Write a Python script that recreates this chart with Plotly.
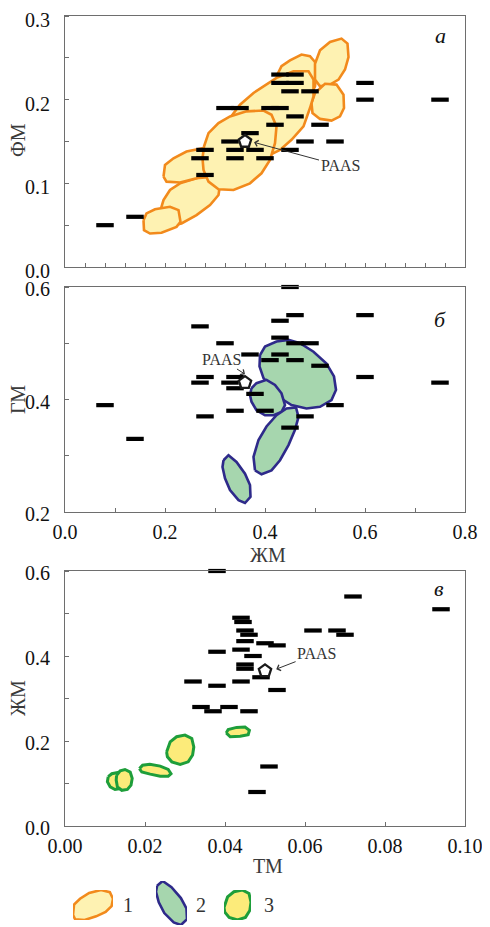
import plotly.graph_objects as go

# ---------------- data ----------------
# panel a: ФМ vs ЖМ (samples)
A_X = [0.08, 0.14, 0.27, 0.28, 0.28, 0.32, 0.35, 0.33, 0.34, 0.34, 0.37, 0.38, 0.40, 0.41, 0.43,
       0.42, 0.43, 0.46, 0.43, 0.46, 0.45, 0.49, 0.46, 0.45, 0.48, 0.51, 0.54, 0.60, 0.60, 0.75]
A_Y = [0.05, 0.06, 0.13, 0.14, 0.11, 0.19, 0.19, 0.15, 0.14, 0.13, 0.16, 0.14, 0.13, 0.19, 0.19,
       0.17, 0.23, 0.23, 0.22, 0.22, 0.21, 0.21, 0.18, 0.14, 0.15, 0.17, 0.15, 0.22, 0.20, 0.20]
# panel b: ГМ vs ЖМ
B_X = [0.45, 0.46, 0.60, 0.43, 0.27, 0.43, 0.32, 0.46, 0.49, 0.37, 0.43, 0.41, 0.46, 0.51, 0.28,
       0.34, 0.60, 0.27, 0.33, 0.75, 0.34, 0.38, 0.08, 0.54, 0.34, 0.40, 0.28, 0.48, 0.45, 0.14]
B_Y = [0.60, 0.55, 0.55, 0.54, 0.53, 0.51, 0.50, 0.50, 0.50, 0.48, 0.48, 0.47, 0.47, 0.46, 0.44,
       0.44, 0.44, 0.43, 0.43, 0.43, 0.42, 0.41, 0.39, 0.39, 0.38, 0.38, 0.37, 0.37, 0.35, 0.33]
# panel c: ЖМ vs ТМ
C_X = [0.038, 0.072, 0.094, 0.044, 0.0445, 0.045, 0.046, 0.062, 0.068, 0.070, 0.045, 0.050, 0.053,
       0.044, 0.038, 0.047, 0.045, 0.045, 0.049, 0.032, 0.044, 0.038, 0.053, 0.034, 0.041, 0.037,
       0.046, 0.051, 0.048]
C_Y = [0.60, 0.54, 0.51, 0.49, 0.48, 0.46, 0.45, 0.46, 0.46, 0.45, 0.435, 0.43, 0.425, 0.415, 0.41,
       0.40, 0.38, 0.37, 0.35, 0.34, 0.34, 0.33, 0.32, 0.28, 0.28, 0.27, 0.27, 0.14, 0.08]

PAAS_A = (0.36, 0.15)
PAAS_B = (0.36, 0.43)
PAAS_C = (0.050, 0.365)

# tick labels
A_YTICKS = [0.0, 0.1, 0.2, 0.3]
B_XTICKS = [0.0, 0.2, 0.4, 0.6, 0.8]
B_YTICKS = [0.2, 0.4, 0.6]
C_XTICKS = [0.00, 0.02, 0.04, 0.06, 0.08, 0.10]
C_YTICKS = [0.0, 0.2, 0.4, 0.6]

# field 1 outlines (panel a)
F1_F = [(0.423, 0.228), (0.433, 0.240), (0.45, 0.247), (0.473, 0.254), (0.49, 0.252), (0.5, 0.245),
        (0.503, 0.232), (0.5, 0.216), (0.49, 0.204), (0.463, 0.204), (0.437, 0.212)]
F1_G = [(0.5, 0.243), (0.51, 0.259), (0.53, 0.269), (0.553, 0.273), (0.565, 0.267), (0.567, 0.251),
        (0.56, 0.236), (0.547, 0.224), (0.53, 0.218), (0.51, 0.216), (0.5, 0.224)]
F1_H = [(0.5, 0.208), (0.52, 0.219), (0.543, 0.218), (0.557, 0.206), (0.558, 0.190), (0.55, 0.180),
        (0.533, 0.175), (0.51, 0.177), (0.495, 0.184), (0.493, 0.196)]
F1_E = [(0.33, 0.178), (0.35, 0.194), (0.377, 0.208), (0.423, 0.226), (0.457, 0.234), (0.487, 0.234),
        (0.497, 0.224), (0.497, 0.204), (0.49, 0.190), (0.477, 0.168), (0.453, 0.152), (0.43, 0.140),
        (0.41, 0.134), (0.383, 0.140), (0.35, 0.152)]
F1_B = [(0.19, 0.066), (0.197, 0.080), (0.21, 0.092), (0.23, 0.100), (0.263, 0.106), (0.297, 0.108),
        (0.31, 0.098), (0.307, 0.086), (0.29, 0.074), (0.263, 0.062), (0.233, 0.052), (0.203, 0.048)]
F1_A = [(0.157, 0.056), (0.163, 0.064), (0.18, 0.069), (0.21, 0.072), (0.227, 0.068), (0.231, 0.054),
        (0.223, 0.048), (0.193, 0.041), (0.17, 0.040), (0.158, 0.044)]
F1_C = [(0.197, 0.108), (0.2, 0.122), (0.217, 0.130), (0.243, 0.138), (0.277, 0.142), (0.302, 0.139),
        (0.311, 0.130), (0.307, 0.120), (0.29, 0.112), (0.263, 0.106), (0.23, 0.101), (0.203, 0.102)]
F1_D = [(0.278, 0.144), (0.287, 0.160), (0.307, 0.172), (0.33, 0.180), (0.363, 0.186), (0.397, 0.187),
        (0.413, 0.182), (0.423, 0.168), (0.42, 0.148), (0.41, 0.128), (0.393, 0.112), (0.37, 0.100),
        (0.337, 0.092), (0.307, 0.093), (0.287, 0.102), (0.277, 0.116), (0.275, 0.130)]

# field 2 outlines (panel b)
F2_P = [(0.39, 0.479), (0.40, 0.494), (0.423, 0.503), (0.447, 0.506), (0.47, 0.500), (0.497, 0.485),
        (0.523, 0.464), (0.538, 0.441), (0.542, 0.417), (0.533, 0.399), (0.51, 0.387), (0.483, 0.384),
        (0.453, 0.390), (0.437, 0.399), (0.417, 0.417), (0.397, 0.438), (0.389, 0.459)]
F2_Q = [(0.373, 0.420), (0.383, 0.429), (0.403, 0.435), (0.42, 0.426), (0.433, 0.411), (0.44, 0.390),
        (0.433, 0.378), (0.417, 0.372), (0.40, 0.372), (0.383, 0.381), (0.373, 0.396), (0.37, 0.408)]
F2_R = [(0.38, 0.274), (0.377, 0.298), (0.387, 0.328), (0.403, 0.352), (0.423, 0.372), (0.443, 0.384),
        (0.462, 0.386), (0.467, 0.369), (0.46, 0.346), (0.447, 0.319), (0.43, 0.292), (0.413, 0.274),
        (0.393, 0.267)]
F2_S = [(0.317, 0.292), (0.327, 0.301), (0.343, 0.289), (0.36, 0.268), (0.37, 0.248), (0.371, 0.227),
        (0.36, 0.216), (0.347, 0.221), (0.33, 0.239), (0.32, 0.260), (0.315, 0.280)]

# field 3 outlines (panel c)
F3_1 = [(0.0108, 0.116), (0.0117, 0.123), (0.0133, 0.126), (0.0142, 0.116), (0.0144, 0.100),
        (0.0138, 0.088), (0.0125, 0.086), (0.0113, 0.092), (0.0106, 0.104)]
F3_2 = [(0.0129, 0.119), (0.0138, 0.130), (0.0150, 0.133), (0.0163, 0.127), (0.0168, 0.112),
        (0.0165, 0.096), (0.0156, 0.086), (0.0142, 0.084), (0.0131, 0.092), (0.0128, 0.108)]
F3_3 = [(0.0186, 0.135), (0.0194, 0.143), (0.0212, 0.145), (0.0238, 0.141), (0.0258, 0.133),
        (0.0265, 0.123), (0.0258, 0.117), (0.0238, 0.117), (0.0213, 0.122), (0.0192, 0.127)]
F3_4 = [(0.0254, 0.174), (0.0263, 0.198), (0.0279, 0.210), (0.0300, 0.214), (0.0317, 0.206),
        (0.0322, 0.186), (0.0319, 0.167), (0.0308, 0.151), (0.0288, 0.145), (0.0267, 0.151),
        (0.0256, 0.163)]
F3_5 = [(0.0403, 0.219), (0.0408, 0.227), (0.0429, 0.232), (0.0450, 0.233), (0.0461, 0.225),
        (0.0458, 0.215), (0.0438, 0.211), (0.0413, 0.210)]

# ---------------- style ----------------
FONT = "Liberation Serif, Times New Roman, serif"
AX_GRAY = "#6e6e6e"
STY1 = dict(line="#F28A1C", fill="#FEF2B2", w=2.6)
STY2 = dict(line="#2E2A8A", fill="#A6D6AE", w=2.6)
STY3 = dict(line="#1E9E3A", fill="#FCEB7A", w=3.0)

fig = go.Figure()


def poly(pts, sty, xa, ya):
    xs = [p[0] for p in pts] + [pts[0][0]]
    ys = [p[1] for p in pts] + [pts[0][1]]
    fig.add_trace(go.Scatter(x=xs, y=ys, mode="lines", fill="toself",
                             fillcolor=sty["fill"], line=dict(color=sty["line"], width=sty["w"]),
                             xaxis=xa, yaxis=ya, hoverinfo="skip", showlegend=False))


def dashes(xs, ys, xa, ya):
    fig.add_trace(go.Scatter(x=xs, y=ys, mode="markers", cliponaxis=False,
                             marker=dict(symbol="line-ew", size=12.5,
                                         line=dict(color="#000000", width=4.2)),
                             xaxis=xa, yaxis=ya, showlegend=False))


def paas(pt, xa, ya):
    fig.add_trace(go.Scatter(x=[pt[0]], y=[pt[1]], mode="markers", cliponaxis=False,
                             marker=dict(symbol="pentagon", size=13, color="white",
                                         line=dict(color="#1a1a1a", width=2.3)),
                             xaxis=xa, yaxis=ya, showlegend=False))


# panel a
for shp in [F1_F, F1_G, F1_H, F1_E, F1_B, F1_A, F1_C, F1_D]:
    poly(shp, STY1, "x", "y")
dashes(A_X, A_Y, "x", "y")
paas(PAAS_A, "x", "y")

# panel b
for shp in [F2_P, F2_Q, F2_R, F2_S]:
    poly(shp, STY2, "x2", "y2")
dashes(B_X, B_Y, "x2", "y2")
paas(PAAS_B, "x2", "y2")

# panel c
for shp in [F3_1, F3_2, F3_3, F3_4, F3_5]:
    poly(shp, STY3, "x3", "y3")
dashes(C_X, C_Y, "x3", "y3")
paas(PAAS_C, "x3", "y3")

# legend glyphs (same outlines, on small dedicated axes)
poly(F1_C, STY1, "x4", "y4")
poly(F2_S, STY2, "x5", "y5")
poly(F3_4, STY3, "x6", "y6")

W, H = 490, 927
OFF = 8  # page body margin of the html page


def fx(px):
    return (px - OFF) / W


def fy(py):
    return 1 - (py - OFF) / H


XDOM = [fx(65), fx(465)]


def ydom(top, bot):
    return [fy(bot), fy(top)]


tickfont = dict(family=FONT, size=20, color="#111111")
base = dict(showgrid=False, zeroline=False, showline=True, linecolor=AX_GRAY, linewidth=1.2,
            mirror=True, ticks="inside", ticklen=4, tickcolor=AX_GRAY, tickfont=tickfont,
            automargin=False, ticklabeloverflow="allow")
minor_t = dict(ticks="inside", ticklen=4, tickcolor=AX_GRAY)

fig.update_layout(
    template="none",
    font=dict(family=FONT, size=20, color="#111111"),
    width=W, height=H, margin=dict(l=0, r=0, t=0, b=0, pad=0),
    paper_bgcolor="white", plot_bgcolor="white", showlegend=False,
    xaxis=dict(base, domain=XDOM, anchor="y", range=[0, 0.8], dtick=0.04, tick0=0,
               showticklabels=False),
    yaxis=dict(base, domain=ydom(16, 267), anchor="x", range=[0, 0.3], tickvals=A_YTICKS,
               tickformat=".1f", ticks="", ticklabelstandoff=10, ticklabelshift=4,
               minor=dict(minor_t, dtick=0.05)),
    xaxis2=dict(base, domain=XDOM, anchor="y2", range=[0, 0.8], tickvals=B_XTICKS,
                tickformat=".1f", ticklabelstandoff=2, minor=dict(minor_t, dtick=0.1)),
    yaxis2=dict(base, domain=ydom(287, 512), anchor="x2", range=[0.2, 0.6], tickvals=B_YTICKS,
                tickformat=".1f", ticks="", ticklabelstandoff=10, ticklabelshift=2,
                minor=dict(minor_t, dtick=0.1)),
    xaxis3=dict(base, domain=XDOM, anchor="y3", range=[0, 0.1], tickvals=C_XTICKS,
                tickformat=".2f", ticklabelstandoff=2),
    yaxis3=dict(base, domain=ydom(571, 826), anchor="x3", range=[0, 0.6], tickvals=C_YTICKS,
                tickformat=".1f", ticks="", ticklabelstandoff=10, ticklabelshift=2,
                minor=dict(minor_t, dtick=0.1)),
)

hidden = dict(visible=False, showgrid=False, zeroline=False, fixedrange=True, automargin=False)
for i, shp, xd, yd in [(4, F1_C, [fx(73), fx(113)], ydom(890, 920)),
                       (5, F2_S, [fx(156), fx(187)], ydom(881, 925)),
                       (6, F3_4, [fx(224), fx(251)], ydom(890, 920))]:
    xs = [p[0] for p in shp]
    ys = [p[1] for p in shp]
    fig.update_layout({f"xaxis{i}": dict(hidden, domain=xd, anchor=f"y{i}", range=[min(xs), max(xs)]),
                       f"yaxis{i}": dict(hidden, domain=yd, anchor=f"x{i}", range=[min(ys), max(ys)])})

ann = []
C = dict(xanchor="center", yanchor="middle", showarrow=False)
title_font = dict(family=FONT, size=20, color="#3a3a3a")
# axis titles
for txt, yp in [("ФМ", 140), ("ГМ", 400), ("ЖМ", 698)]:
    ann.append(dict(C, text=txt, x=fx(18), y=fy(yp), xref="paper", yref="paper",
                    textangle=-90, font=title_font))
ann.append(dict(C, text="ЖМ", x=fx(268), y=fy(555), xref="paper", yref="paper", font=title_font))
ann.append(dict(C, text="ТМ", x=fx(268), y=fy(866), xref="paper", yref="paper", font=title_font))
# panel letters
letter_font = dict(family=FONT, size=22, color="#111111")
ann.append(dict(C, text="<i>а</i>", x=0.75, y=0.277, xref="x", yref="y", font=letter_font))
ann.append(dict(C, text="<i>б</i>", x=0.75, y=0.542, xref="x2", yref="y2", font=letter_font))
ann.append(dict(C, text="<i>в</i>", x=0.0936, y=0.559, xref="x3", yref="y3", font=letter_font))
# PAAS labels
pf = dict(family=FONT, size=16, color="#333333")
arrow = dict(showarrow=True, arrowhead=4, arrowsize=1.2, arrowwidth=1, arrowcolor="#333333",
             xanchor="center", yanchor="middle")
ann.append(dict(arrow, text="PAAS", x=0.378, y=0.149, xref="x", yref="y",
                ax=0.55, ay=0.121, axref="x", ayref="y", font=pf))
ann.append(dict(arrow, text="PAAS", x=0.36, y=0.445, xref="x2", yref="y2",
                ax=0.313, ay=0.472, axref="x2", ayref="y2", font=pf))
ann.append(dict(arrow, text="PAAS", x=0.0528, y=0.369, xref="x3", yref="y3",
                ax=0.0629, ay=0.406, axref="x3", ayref="y3", font=pf))
# legend numbers
for txt, xp in [("1", 128), ("2", 200.7), ("3", 269)]:
    ann.append(dict(C, text=txt, x=fx(xp), y=fy(905), xref="paper", yref="paper",
                    font=dict(family=FONT, size=20, color="#333333")))
fig.update_layout(annotations=ann)

fig.write_html("out.html")
